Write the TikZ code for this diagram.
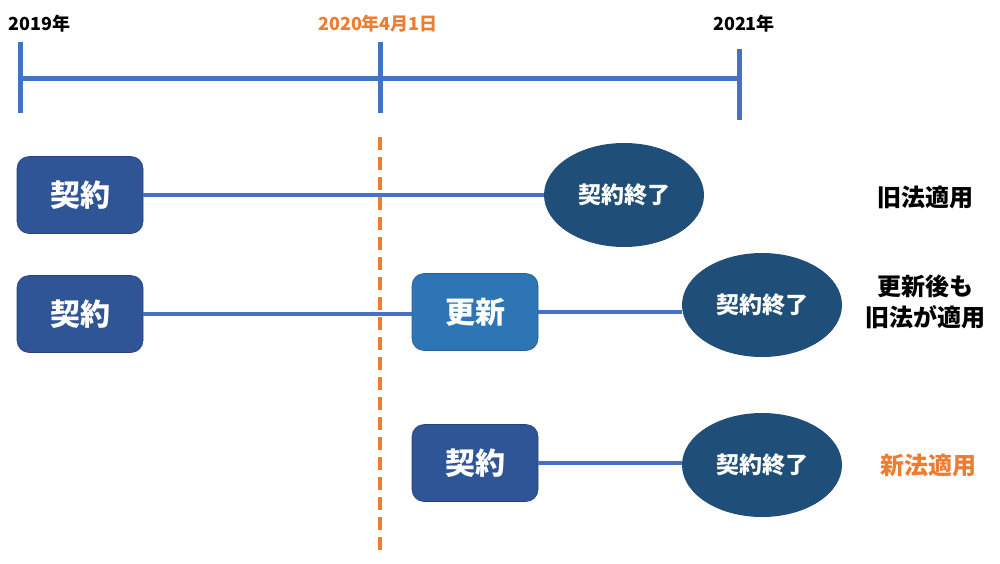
\documentclass[tikz,border=0pt]{standalone}
\usepackage{fontspec}
\setmainfont{Noto Sans CJK JP}
\usetikzlibrary{positioning,shapes.geometric}

\definecolor{lineblue}{HTML}{4472C4}
\definecolor{boxblue}{HTML}{2F5597}
\definecolor{renewblue}{HTML}{2E75B6}
\definecolor{endblue}{HTML}{1F4E79}
\definecolor{dateorange}{HTML}{ED7D31}

\begin{document}
\begin{tikzpicture}[x=1pt, y=-1pt,
    keiyaku/.style={rectangle, rounded corners=12pt, fill=boxblue, draw=boxblue!80!black, line width=0.6pt, text=white, minimum width=126pt, minimum height=77pt, inner sep=0pt, font=\fontsize{30}{32}\selectfont\bfseries},
    shuryo/.style={ellipse, fill=endblue, text=white, minimum width=160pt, minimum height=104pt, inner sep=0pt, font=\fontsize{23}{25}\selectfont\bfseries},
    hou/.style={font=\fontsize{24}{31}\selectfont\bfseries, align=center},
    year/.style={font=\fontsize{18}{20}\selectfont\bfseries},
    conn/.style={lineblue, line width=4pt}]
      \useasboundingbox (0,0) rectangle (1000,563);

      % timeline
      \coordinate (t19top) at (20,42);
      \coordinate (t19bot) at (20,113);
      \coordinate (t20top) at (380,42);
      \coordinate (t20bot) at (380,113);
      \coordinate (t21top) at (739,49);
      \coordinate (t21bot) at (739,120);
      \coordinate (tstart) at (20,78);
      \coordinate (tend) at (739,78);
      \draw[lineblue, line width=5pt] (t19top) -- (t19bot);
      \draw[lineblue, line width=5pt] (t20top) -- (t20bot);
      \draw[lineblue, line width=5pt] (t21top) -- (t21bot);
      \draw[lineblue, line width=5pt] (tstart) -- (tend);

      \node[year, anchor=west] (y2019) at (5,24) {2019年};
      \node[year, text=dateorange] (y2020) at (378,24) {2020年4月1日};
      \node[year] (y2021) at (744,24) {2021年};

      % 2020年4月1日
      \coordinate (cuttop) at (380,137);
      \coordinate (cutbot) at (380,552);
      \draw[dateorange, line width=4pt, dash pattern=on 13pt off 7pt] (cuttop) -- (cutbot);

      % 1段目
      \node[keiyaku] (k1) at (80,195) {契約};
      \node[shuryo] (e1) at (624,195) {契約終了};
      \node[hou] (h1) at (925,197) {旧法適用};
      \draw[conn] (k1) -- (e1);

      % 2段目
      \node[keiyaku] (k2) at (80,314) {契約};
      \node[keiyaku, fill=renewblue, draw=renewblue!80!black] (koshin) at (475,312) {更新};
      \node[shuryo] (e2) at (762,305) {契約終了};
      \node[hou] (h2) at (925,302) {更新後も\\旧法が適用};
      \draw[conn] (k2.east) -- (koshin.west |- k2.east);
      \draw[conn] (koshin.east) -- (koshin.east -| e2.west);

      % 3段目
      \node[keiyaku] (k3) at (475,463) {契約};
      \node[shuryo] (e3) at (762,465) {契約終了};
      \node[hou, text=dateorange] (h3) at (928,465) {新法適用};
      \draw[conn] (k3.east) -- (k3.east -| e3.west);
\end{tikzpicture}
\end{document}
